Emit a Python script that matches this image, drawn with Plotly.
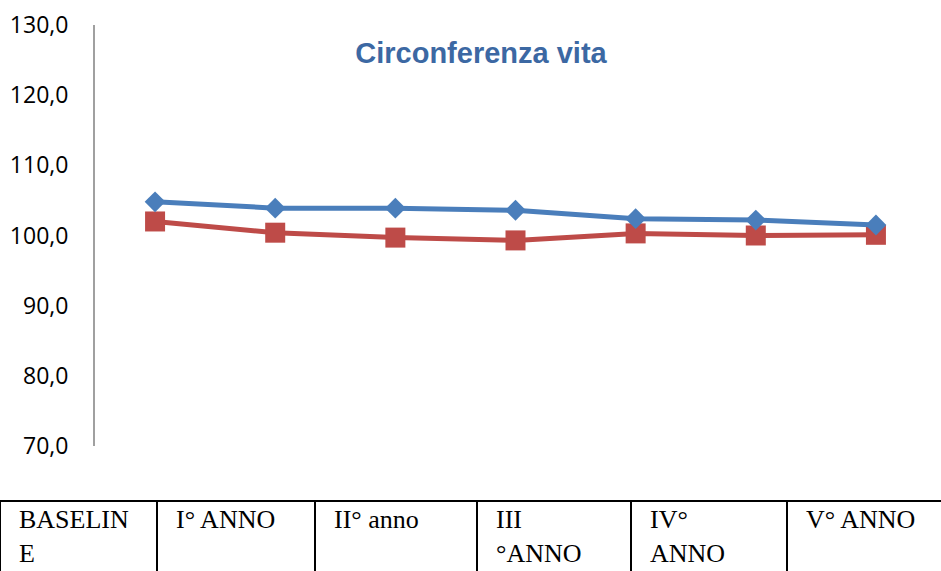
import plotly.graph_objects as go

W, H = 941, 571

# Data
categories = ["BASELINE", "I° ANNO", "II° anno", "III °ANNO", "IV° ANNO", "V° ANNO", "VI° ANNO"]
series_blue = [104.8, 103.9, 103.9, 103.6, 102.4, 102.2, 101.5]
series_red = [102.0, 100.4, 99.7, 99.3, 100.3, 100.0, 100.1]
table_labels = ["BASELIN<br>E", "I° ANNO", "II° anno", "III<br>°ANNO", "IV°<br>ANNO", "V° ANNO"]
y_ticks = [70, 80, 90, 100, 110, 120, 130]

BLUE = "#4A7EBB"
RED = "#BE4B48"

xs = list(range(len(categories)))

fig = go.Figure()
fig.add_trace(go.Scatter(
    x=xs, y=series_red, mode="lines+markers", name="red",
    line=dict(color=RED, width=5),
    marker=dict(symbol="square", size=20, color=RED),
    hovertext=categories,
))
fig.add_trace(go.Scatter(
    x=xs, y=series_blue, mode="lines+markers", name="blue",
    line=dict(color=BLUE, width=5),
    marker=dict(symbol="diamond", size=16, color=BLUE),
    hovertext=categories,
))

def px_x(p):
    return p / W

def px_y(p):
    return 1 - p / H

fig.update_layout(
    width=W, height=H,
    margin=dict(l=0, r=0, t=0, b=0, pad=0, autoexpand=False),
    paper_bgcolor="white", plot_bgcolor="white",
    showlegend=False,
    separators=", ",
    title=dict(
        text="<b>Circonferenza vita</b>",
        x=px_x(481), y=px_y(53), xanchor="center", yanchor="middle",
        xref="paper", yref="paper",
        font=dict(family="Liberation Sans, Arial", size=29, color="#3C68A3"),
    ),
    xaxis=dict(
        domain=[px_x(95), px_x(936)],
        range=[-0.5, len(categories) - 0.5],
        showticklabels=False, showgrid=False, zeroline=False, showline=False,
        ticks="", automargin=False,
    ),
    yaxis=dict(
        domain=[px_y(446), px_y(25)],
        range=[70, 130],
        tickvals=y_ticks,
        tickformat=".1f",
        showgrid=False, zeroline=False,
        showline=True, linecolor="#A0A0A0", linewidth=2,
        ticks="", ticklabelstandoff=20, automargin=False,
        tickfont=dict(family="Open Sans", size=23, color="black"),
    ),
)

# Bottom table (decoration pasted under the chart)
cell_edges = [0, 157, 315, 477, 631, 787, 945]
shapes = []
shapes.append(dict(type="line", xref="paper", yref="paper",
                   x0=px_x(0), x1=px_x(W), y0=px_y(501), y1=px_y(501),
                   line=dict(color="black", width=2)))
for e in cell_edges:
    shapes.append(dict(type="line", xref="paper", yref="paper",
                       x0=px_x(e), x1=px_x(e), y0=px_y(501), y1=px_y(H + 5),
                       line=dict(color="black", width=2)))
fig.update_layout(shapes=shapes)

for i, lab in enumerate(table_labels):
    fig.add_annotation(
        xref="paper", yref="paper",
        x=px_x(cell_edges[i] + 17), y=px_y(503),
        xanchor="left", yanchor="top", align="left",
        text=lab, showarrow=False,
        font=dict(family="Liberation Serif, Times New Roman", size=26, color="black"),
    )

fig.write_html("out.html", config={"displayModeBar": False},
               post_script="document.body.style.margin='0';")
